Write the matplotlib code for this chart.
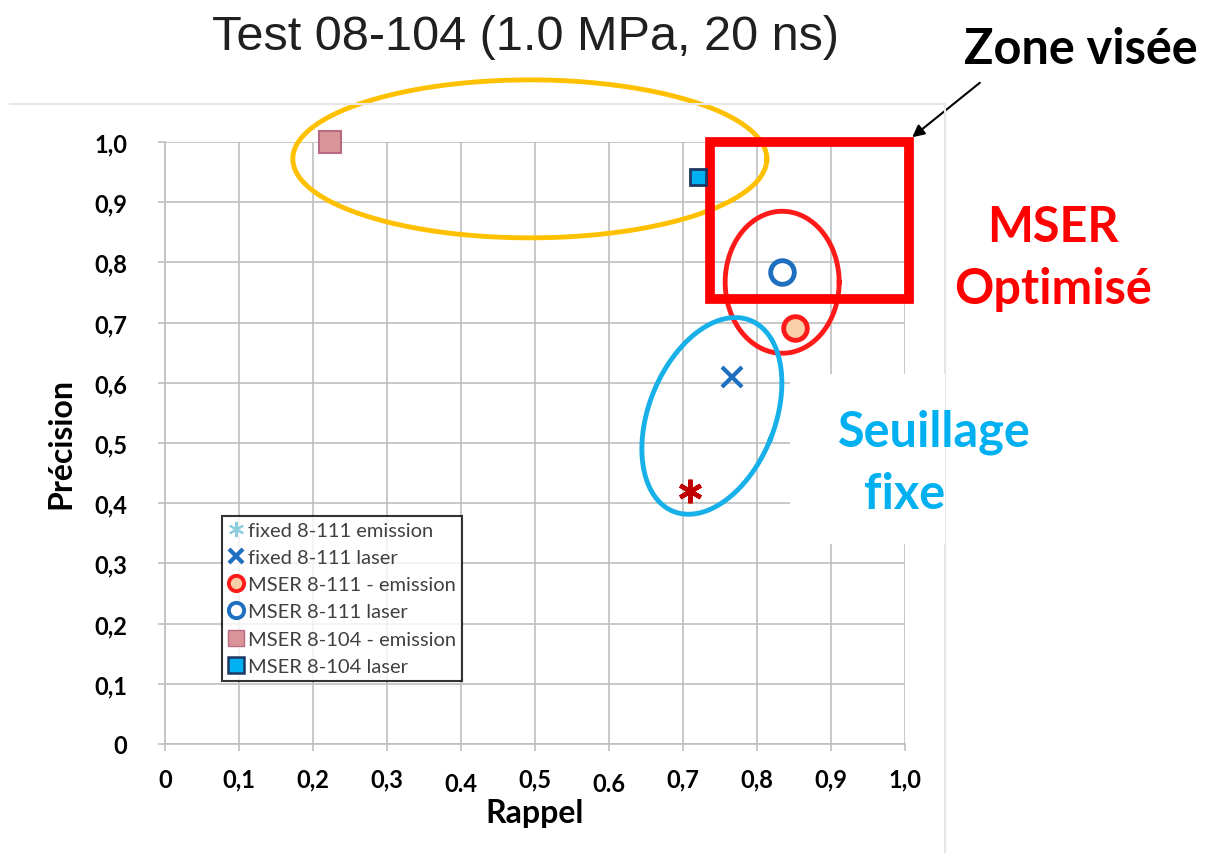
import numpy as np
import matplotlib.pyplot as plt
from matplotlib.lines import Line2D
from matplotlib.patches import Rectangle

plt.rcParams['font.family'] = ['Lato', 'DejaVu Sans']

# données (rappel, précision)
series = ["fixed 8-111 emission", "fixed 8-111 laser", "MSER 8-111 - emission",
          "MSER 8-111 laser", "MSER 8-104 - emission", "MSER 8-104 laser"]
rappel = [0.709, 0.766, 0.851, 0.834, 0.223, 0.720]
precision = [0.420, 0.610, 0.691, 0.784, 1.000, 0.942]

xticks = [0, 0.1, 0.2, 0.3, 0.4, 0.5, 0.6, 0.7, 0.8, 0.9, 1.0]
xlabels = ["0", "0,1", "0,2", "0,3", "0.4", "0,5", "0.6", "0,7", "0,8", "0,9", "1,0"]
yticks = [0, 0.1, 0.2, 0.3, 0.4, 0.5, 0.6, 0.7, 0.8, 0.9, 1.0]
ylabels = ["0", "0,1", "0,2", "0,3", "0,4", "0,5", "0,6", "0,7", "0,8", "0,9", "1,0"]

W, H = 1206, 854
fig = plt.figure(figsize=(W / 100, H / 100), dpi=100)
# axes placé au pixel près : x 165..905, y 143..745
ax = fig.add_axes([165 / W, (H - 745) / H, 740 / W, 602 / H])
ax.set_xlim(0, 1)
ax.set_ylim(0, 1)
ax.set_xticks(xticks)
ax.set_xticklabels(xlabels)
ax.set_yticks(yticks)
ax.set_yticklabels(ylabels)
ax.grid(True, color='#bfbfbf', lw=1.2)
ax.set_axisbelow(True)
for s in ['top', 'right']:
    ax.spines[s].set_visible(False)
for s in ['left', 'bottom']:
    ax.spines[s].set_color('#bfbfbf')
    ax.spines[s].set_linewidth(1.2)
ax.tick_params(colors='#bfbfbf', length=5, width=1.2, labelcolor='black')
ax.tick_params(axis='y', pad=22, labelsize=17)
ax.tick_params(axis='x', pad=12, labelsize=17)
for t in ax.get_xticklabels():
    t.set_fontweight('bold')
    if '.' in t.get_text():
        t.set_y(-0.008)
for t in ax.get_yticklabels():
    t.set_fontweight('bold')
ax.set_xlabel("Rappel", fontsize=23, fontweight='bold', labelpad=2)
ax.set_ylabel("Précision", fontsize=23, fontweight='bold', labelpad=14)

# marqueurs
ax.plot(rappel[0], precision[0], ls='none', marker=(6, 2, 0), ms=17, mew=3.2, color='#c00000', zorder=5)
ax.plot(rappel[1], precision[1], ls='none', marker='x', ms=15, mew=3, color='#1f6fc0', zorder=5)
ax.plot(rappel[2], precision[2], ls='none', marker='o', ms=17, mew=3.5, mfc='#f9cfa8', mec='#ff1a1a', zorder=5)
ax.plot(rappel[3], precision[3], ls='none', marker='o', ms=17, mew=3.5, mfc='white', mec='#1f6fc0', zorder=5)
ax.plot(rappel[4], precision[4], ls='none', marker='s', ms=16, mew=1.5, mfc='#d9959a', mec='#b86a80',
        clip_on=False, zorder=5)
ax.plot(rappel[5], precision[5], ls='none', marker='s', ms=11, mew=2, mfc='#00b0f0', mec='#1f3864', zorder=5)

# légende
handles = [
    Line2D([], [], ls='none', marker=(6, 2, 0), ms=11, mew=1.5, color='#8ccde0'),
    Line2D([], [], ls='none', marker='x', ms=10, mew=3, color='#1f6fc0'),
    Line2D([], [], ls='none', marker='o', ms=11, mew=2.8, mfc='#f9cfa8', mec='#ff1a1a'),
    Line2D([], [], ls='none', marker='o', ms=11, mew=2.8, mfc='white', mec='#1f6fc0'),
    Line2D([], [], ls='none', marker='s', ms=11, mew=1, mfc='#d9959a', mec='#b86a80'),
    Line2D([], [], ls='none', marker='s', ms=11, mew=1.8, mfc='#00b0f0', mec='#1f3864'),
]
leg = ax.legend(handles, series, loc='lower left', bbox_to_anchor=(0.077, 0.105),
                fontsize=14.5, frameon=True, fancybox=False, handlelength=0.8,
                handletextpad=0.2, borderpad=0.3, labelspacing=0.5,
                borderaxespad=0)
leg.get_frame().set_edgecolor('black')
leg.get_frame().set_linewidth(1.5)
leg.set_zorder(6)
for t in leg.get_texts():
    t.set_color('#404040')


def ellipse(cx, cy, a, b, ang, **kw):
    # a, b en pixels, centre en données
    phi = np.linspace(0, 2 * np.pi, 200)
    th = np.radians(ang)
    dx = a * np.cos(phi) * np.cos(th) - b * np.sin(phi) * np.sin(th)
    dy = a * np.cos(phi) * np.sin(th) + b * np.sin(phi) * np.cos(th)
    ax.plot(cx + dx / 740, cy + dy / 602, clip_on=False, zorder=4, **kw)


ellipse(0.493, 0.972, 237, 79, 0, color='#ffc000', lw=3.5)
ellipse(0.834, 0.767, 57, 71, 0, color='#ff1a1a', lw=3.5)
ellipse(0.739, 0.545, 63, 103, -22, color='#17b0e8', lw=3.5)

# zone visée
ax.add_patch(Rectangle((0.736, 0.739), 0.27, 0.261, fill=False, ec='#ff0000',
                       lw=7, clip_on=False, joinstyle='miter', zorder=4))

# cadre blanc derrière "Seuillage fixe"
fig.patches.append(Rectangle((790 / W, (H - 545) / H), 155 / W, 170 / H,
                             transform=fig.transFigure, fc='white', ec='none', zorder=3))

# bordure de la zone de graphique
fig.add_artist(Line2D([10 / W, 945 / W], [(H - 105) / H] * 2, color='#e6e6e6', lw=1.5))
fig.add_artist(Line2D([945 / W] * 2, [(H - 105) / H, 0], color='#e6e6e6', lw=1.5))

fig.text(525 / W, 1 - 38 / H, "Test 08-104 (1.0 MPa, 20 ns)", fontsize=35,
         family=['Liberation Sans'], ha='center', va='center', color='#202020')
fig.text(1081 / W, 1 - 50 / H, "Zone visée", fontsize=35, fontweight='bold',
         ha='center', va='center')
fig.text(1053 / W, 1 - 228 / H, "MSER", fontsize=35, fontweight='bold',
         color='#ff0000', ha='center', va='center')
fig.text(1053 / W, 1 - 290 / H, "Optimisé", fontsize=35, fontweight='bold',
         color='#ff0000', ha='center', va='center')
fig.text(934 / W, 1 - 432 / H, "Seuillage", fontsize=35, fontweight='bold',
         color='#00b0f0', ha='center', va='center', zorder=5)
fig.text(905 / W, 1 - 495 / H, "fixe", fontsize=35, fontweight='bold',
         color='#00b0f0', ha='center', va='center', zorder=5)
ax.annotate("", xy=(910 / W, 1 - 140 / H), xytext=(982 / W, 1 - 82 / H),
            xycoords='figure fraction', textcoords='figure fraction',
            arrowprops=dict(arrowstyle='-|>', color='black', lw=1.5, mutation_scale=18))

fig.savefig("out.png", dpi=100)
